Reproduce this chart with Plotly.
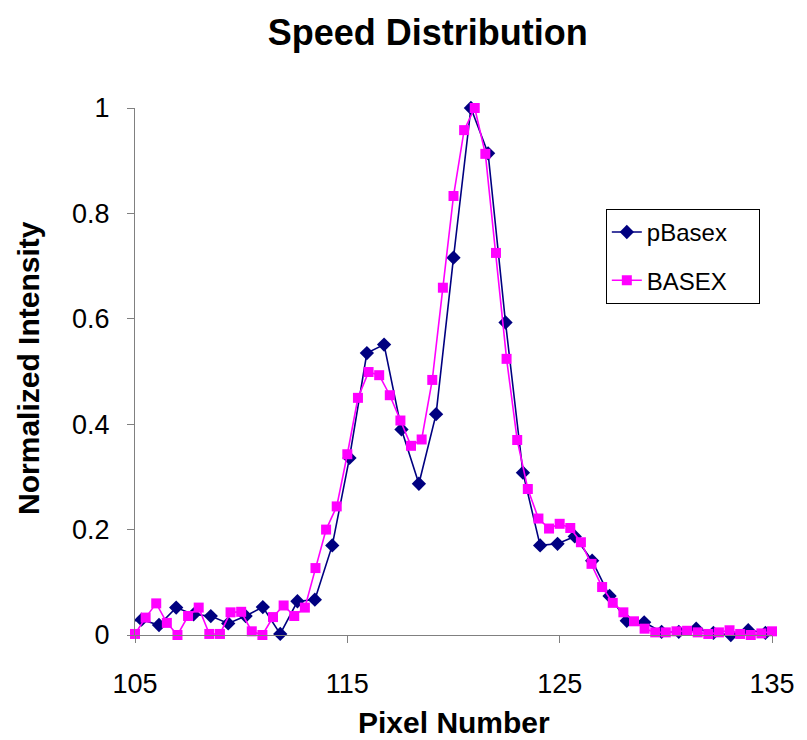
import plotly.graph_objects as go

# ---- data ----
basex_x = [105.0, 105.5, 106.0, 106.5, 107.0, 107.5, 108.0, 108.5, 109.0, 109.5,
           110.0, 110.5, 111.0, 111.5, 112.0, 112.5, 113.0, 113.5, 114.0, 114.5,
           115.0, 115.5, 116.0, 116.5, 117.0, 117.5, 118.0, 118.5, 119.0, 119.5,
           120.0, 120.5, 121.0, 121.5, 122.0, 122.5, 123.0, 123.5, 124.0, 124.5,
           125.0, 125.5, 126.0, 126.5, 127.0, 127.5, 128.0, 128.5, 129.0, 129.5,
           130.0, 130.5, 131.0, 131.5, 132.0, 132.5, 133.0, 133.5, 134.0, 134.5,
           135.0]
basex_y = [0.002, 0.033, 0.060, 0.023, 0.000, 0.036, 0.052, 0.002, 0.002, 0.043,
           0.044, 0.007, 0.000, 0.034, 0.056, 0.036, 0.052, 0.127, 0.200, 0.244,
           0.343, 0.450, 0.499, 0.493, 0.455, 0.407, 0.359, 0.371, 0.484, 0.659,
           0.833, 0.958, 1.000, 0.913, 0.725, 0.524, 0.370, 0.277, 0.221, 0.202,
           0.211, 0.203, 0.176, 0.135, 0.091, 0.061, 0.043, 0.026, 0.012, 0.005,
           0.005, 0.007, 0.008, 0.005, 0.002, 0.005, 0.009, 0.002, 0.000, 0.003,
           0.007]

pbasex_x = [104.49, 105.31, 106.13, 106.94, 107.76, 108.57, 109.39, 110.21, 111.02, 111.84,
            112.65, 113.47, 114.29, 115.10, 115.92, 116.73, 117.55, 118.37, 119.18, 120.00,
            120.82, 121.63, 122.45, 123.27, 124.08, 124.90, 125.71, 126.53, 127.35, 128.16,
            128.98, 129.80, 130.61, 131.43, 132.24, 133.06, 133.88, 134.69]
pbasex_y = [0.024, 0.029, 0.019, 0.052, 0.039, 0.036, 0.022, 0.036, 0.053, 0.002,
            0.064, 0.067, 0.170, 0.336, 0.535, 0.551, 0.390, 0.287, 0.419, 0.716,
            1.000, 0.914, 0.593, 0.308, 0.170, 0.173, 0.187, 0.141, 0.074, 0.027,
            0.024, 0.006, 0.006, 0.012, 0.004, 0.000, 0.009, 0.004]

x_ticks = [105, 115, 125, 135]
y_ticks = [0, 0.2, 0.4, 0.6, 0.8, 1]
y_tick_text = ["0", "0.2", "0.4", "0.6", "0.8", "1"]

FONT = "Liberation Sans, Arial, Helvetica, sans-serif"
AXIS_COLOR = "#808080"
NB = "\u00a0"

fig = go.Figure()
fig.add_trace(go.Scatter(
    x=pbasex_x, y=pbasex_y, name="pBasex" + NB * 4, mode="lines+markers",
    line=dict(color="#000080", width=1.6),
    marker=dict(symbol="diamond", size=11, color="#000080"),
    cliponaxis=False, legendgroup="a",
))
fig.add_trace(go.Scatter(
    x=basex_x, y=basex_y, name="BASEX", mode="lines+markers",
    line=dict(color="#FF00FF", width=1.6),
    marker=dict(symbol="square", size=10, color="#FF00FF"),
    cliponaxis=False, legendgroup="b",
))

fig.update_layout(
    width=807, height=740,
    margin=dict(l=135, r=28, t=108, b=104.5),
    paper_bgcolor="white", plot_bgcolor="white",
    font=dict(family=FONT, color="black", size=27),
    title=dict(text="<b>Speed Distribution</b>", font=dict(size=36, family=FONT),
               x=0.53, xref="container", xanchor="center",
               y=1 - 32 / 740, yref="container", yanchor="middle"),
    xaxis=dict(range=[105, 135], tickvals=x_ticks, ticktext=[str(v) for v in x_ticks],
               showgrid=False, zeroline=False, showline=True, linecolor=AXIS_COLOR,
               linewidth=1.2, ticks="outside", ticklen=7, tickcolor=AXIS_COLOR,
               tickfont=dict(size=27), ticklabelstandoff=17),
    yaxis=dict(range=[0, 1], tickvals=y_ticks, ticktext=y_tick_text,
               showgrid=False, zeroline=False, showline=True, linecolor=AXIS_COLOR,
               linewidth=1.2, ticks="outside", ticklen=7, tickcolor=AXIS_COLOR,
               tickfont=dict(size=27), ticklabelstandoff=12),
    legend=dict(x=(611 - 135) / 644, y=(635.5 - 209) / 527.5, xanchor="left", yanchor="top",
                bordercolor="black", borderwidth=1, bgcolor="white",
                font=dict(size=24, family=FONT), traceorder="grouped", tracegroupgap=14),
    showlegend=True,
)

fig.add_annotation(text="<b>Pixel Number</b>", xref="paper", yref="paper",
                   x=0.5, y=(635.5 - 723) / 527.5, xanchor="center", yanchor="middle",
                   showarrow=False, font=dict(size=30, family=FONT))
fig.add_annotation(text="<b>Normalized Intensity</b>", xref="paper", yref="paper",
                   x=(28 - 135) / 644, y=(635.5 - 368) / 527.5, xanchor="center", yanchor="middle",
                   textangle=-90, showarrow=False, font=dict(size=30, family=FONT))

fig.write_html("out.html")
